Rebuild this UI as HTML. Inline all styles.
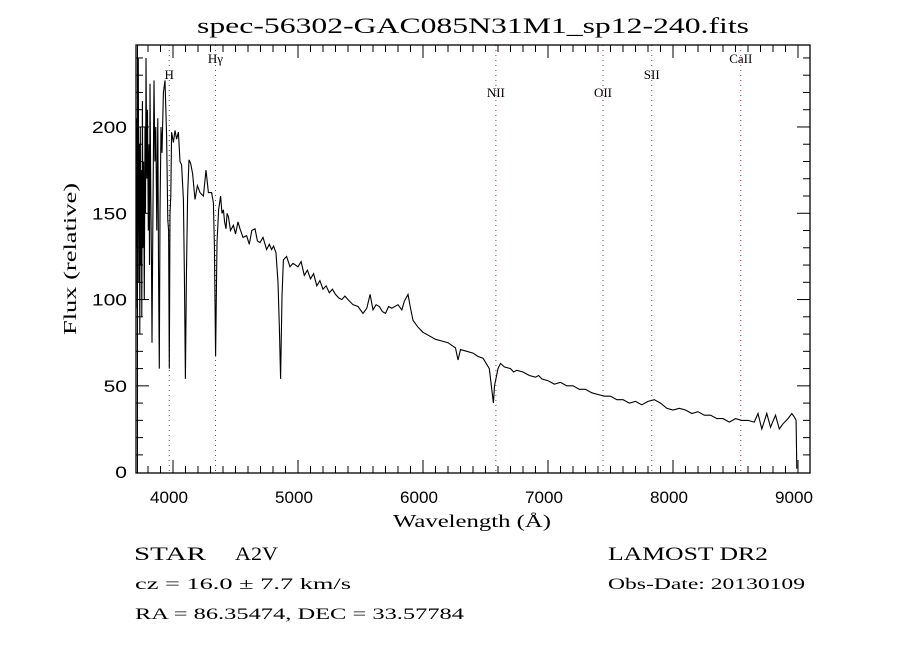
<!DOCTYPE html>
<html><head><meta charset="utf-8"><style>
html,body{margin:0;padding:0;background:#fff;}
svg{display:block;}
.serif{font-family:"Liberation Serif",serif;}
.sans{font-family:"Liberation Sans",sans-serif;}
</style></head><body>
<svg id="chart" width="900" height="650" viewBox="0 0 900 650" xmlns="http://www.w3.org/2000/svg">
<rect width="900" height="650" fill="#fff"/>
<text class="serif" x="197" y="33" font-size="22" textLength="552" lengthAdjust="spacingAndGlyphs">spec-56302-GAC085N31M1_sp12-240.fits</text>
<g id="lines"></g>
<g id="axes"></g>
<path id="spec" fill="none" stroke="#000" stroke-width="1.1"/>
<rect x="136" y="45" width="674" height="428" fill="none" stroke="#000" stroke-width="1.3"/>
<line x1="137.5" y1="45" x2="137.5" y2="473" stroke="#000" stroke-width="1"/>
<text class="serif" x="393" y="527" font-size="18" textLength="158" lengthAdjust="spacingAndGlyphs">Wavelength (Å)</text>
<text class="serif" transform="translate(76,335) rotate(-90)" font-size="18" textLength="152" lengthAdjust="spacingAndGlyphs">Flux (relative)</text>
<text class="serif" x="134" y="560" font-size="19" textLength="72" lengthAdjust="spacingAndGlyphs">STAR</text>
<text class="serif" x="235" y="560" font-size="19" textLength="43" lengthAdjust="spacingAndGlyphs">A2V</text>
<text class="serif" x="608" y="560" font-size="19" textLength="160" lengthAdjust="spacingAndGlyphs">LAMOST DR2</text>
<text class="serif" x="135" y="589" font-size="16" textLength="216" lengthAdjust="spacingAndGlyphs">cz = 16.0 ± 7.7 km/s</text>
<text class="serif" x="608" y="589" font-size="16" textLength="197" lengthAdjust="spacingAndGlyphs">Obs-Date: 20130109</text>
<text class="serif" x="135" y="619" font-size="16" textLength="329" lengthAdjust="spacingAndGlyphs">RA =  86.35474, DEC =  33.57784</text>
</svg>
<script>
const wavelengths=[3705,3710,3714,3718,3722,3726,3730,3734,3738,3742,3746,3750,3755,3760,3765,3770,3776,3780,3784,3790,3796,3802,3808,3812,3816,3822,3828,3832,3838,3848,3855,3862,3870,3878,3884,3890,3896,3904,3912,3923,3936,3949,3958,3965,3970,3976,3982,3989,4003,4016,4029,4043,4056,4069,4083,4091,4099,4107,4117,4128,4141,4157,4176,4195,4216,4243,4264,4283,4309,4323,4331,4341,4352,4365,4381,4392,4403,4413,4424,4433,4443,4460,4483,4500,4520,4536,4560,4589,4610,4630,4656,4675,4696,4720,4749,4770,4789,4805,4824,4840,4851,4861,4872,4883,4909,4936,4960,5000,5025,5050,5075,5100,5125,5150,5175,5200,5225,5250,5275,5300,5325,5350,5375,5400,5440,5480,5520,5550,5577,5600,5625,5650,5675,5700,5725,5750,5800,5830,5850,5880,5900,5920,5960,6000,6050,6100,6150,6200,6260,6280,6300,6350,6400,6440,6480,6530,6555,6563,6572,6600,6620,6650,6700,6725,6750,6800,6850,6900,6925,6950,7000,7050,7100,7150,7200,7250,7300,7350,7400,7450,7500,7550,7600,7650,7700,7750,7800,7850,7900,7950,8000,8050,8100,8150,8200,8250,8300,8350,8400,8450,8500,8550,8600,8650,8680,8710,8750,8780,8820,8850,8880,8920,8950,8970,8985,8990];
const fluxes=[130,205,95,185,240,110,190,80,200,120,175,90,215,130,180,100,200,150,240,170,210,140,190,120,225,160,120,75,140,227,180,200,140,205,120,60,150,200,185,220,227,195,146,140,60,150,160,197,191,198,193,197,180,178,158,114,54,113,160,181,179,173,158,166,162,160,175,162,162,156,131,67,133,152,160,150,152,145,141,150,148,140,143,138,145,141,136,137,132,140,141,134,133,136,129,132,129,131,127,110,83,54,102,123,125,119,121,119,122,114,117,112,115,108,111,106,108,104,106,103,101,100,102,100,97,96,92,95,103,94,97,96,93,92,96,95,97,94,99,103,95,88,84,81,79,77,76,75,72,65,71,70,69,67,66,60,45,40,50,60,63,61,60,58,59,58,56,55,56,54,53,51,52,50,50,48,48,46,45,44,44,42,42,40,41,39,41,42,40,37,36,37,36,34,35,33,33,31,31,29,31,30,30,29,34,25,34,26,33,25,28,31,34,32,30,2];
const xTicks=[4000,5000,6000,7000,8000,9000];
const yTicks=[0,50,100,150,200];
const lineNames=["H","Hγ","NII","OII","SII","CaII"];
const lineWaves=[3970,4340,6583,7440,7830,8542];
const lineLabelY=[79,63,97,97,79,63];

const NS="http://www.w3.org/2000/svg";
const L=136,R=810,T=45,B=473,XMIN=3704,XMAX=9096,YMIN=-0.5,YMAX=247.5;
function sx(w){return L+(w-XMIN)/(XMAX-XMIN)*(R-L);}
function sy(f){return B-(f-YMIN)/(YMAX-YMIN)*(B-T);}
function mk(tag,attrs,parent){const e=document.createElementNS(NS,tag);for(const k in attrs)e.setAttribute(k,attrs[k]);parent.appendChild(e);return e;}
const axes=document.getElementById('axes');
for(let w=3800;w<=9000;w+=100){
  const major=w%1000===0;const len=major?13:7;const x=sx(w);
  const t1=mk('line',{x1:x,y1:B,x2:x,y2:B-len,stroke:'#000','stroke-width':1},axes);
  
  
  const t2=mk('line',{x1:x,y1:T,x2:x,y2:T+len,stroke:'#000','stroke-width':1},axes);
  
  
}
xTicks.forEach(w=>{
  const t=mk('text',{x:sx(w)-4,y:503,'font-size':17,'text-anchor':'middle','class':'sans',textLength:38,lengthAdjust:'spacingAndGlyphs'},axes);
  t.textContent=w;
  
  
});
for(let f=10;f<=240;f+=10){
  const major=f%50===0;const len=major?13:7;const y=sy(f);
  const t1=mk('line',{x1:L,y1:y,x2:L+len,y2:y,stroke:'#000','stroke-width':1},axes);
  
  
  const t2=mk('line',{x1:R,y1:y,x2:R-len,y2:y,stroke:'#000','stroke-width':1},axes);
  
  
}
yTicks.forEach(f=>{
  const s=String(f);
  const t=mk('text',{x:127,y:sy(f)+6,'font-size':17,'text-anchor':'end','class':'sans',textLength:s.length*11.7,lengthAdjust:'spacingAndGlyphs'},axes);
  t.textContent=s;
  
  
});
const lg=document.getElementById('lines');
lineWaves.forEach((w,i)=>{
  const x=sx(w);
  const l=mk('line',{x1:x,y1:T,x2:x,y2:B,stroke:'#8b3a3a','stroke-width':1,'stroke-dasharray':'1 4'},lg);
  
  
  const t=mk('text',{x:x,y:lineLabelY[i],'font-size':13,'text-anchor':'middle','class':'serif'},lg);
  t.textContent=lineNames[i];
  
  
});
let d='';
wavelengths.forEach((w,i)=>{d+=(i?'L':'M')+sx(w).toFixed(1)+' '+sy(fluxes[i]).toFixed(1);});
document.getElementById('spec').setAttribute('d',d);
</script>
</body></html>
